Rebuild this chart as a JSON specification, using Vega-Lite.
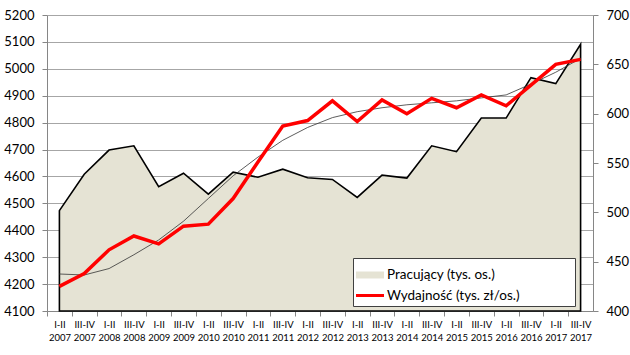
{
  "$schema": "https://vega.github.io/schema/vega-lite/v6.json",
  "width": 546,
  "height": 296,
  "autosize": {"type": "none"},
  "padding": {"left": 47, "top": 15, "right": 37, "bottom": 44},
  "background": "white",
  "config": {
    "view": {"stroke": null},
    "font": "Lato",
    "axis": {"labelColor": "black", "labelFont": "Lato", "domainColor": "#868686", "tickColor": "#868686", "tickSize": 5, "title": null}
  },
  "data": {
    "values": [
      {"cat": "I-II 2007", "prac": 4473, "wyd": 425, "trend": 437.5},
      {"cat": "III-IV 2007", "prac": 4608, "wyd": 438, "trend": 436.5},
      {"cat": "I-II 2008", "prac": 4698, "wyd": 462, "trend": 443},
      {"cat": "III-IV 2008", "prac": 4714, "wyd": 476, "trend": 457},
      {"cat": "I-II 2009", "prac": 4562, "wyd": 468, "trend": 472},
      {"cat": "III-IV 2009", "prac": 4612, "wyd": 486, "trend": 491},
      {"cat": "I-II 2010", "prac": 4534, "wyd": 488, "trend": 514},
      {"cat": "III-IV 2010", "prac": 4616, "wyd": 514, "trend": 537},
      {"cat": "I-II 2011", "prac": 4597, "wyd": 551, "trend": 556},
      {"cat": "III-IV 2011", "prac": 4627, "wyd": 587.5, "trend": 573},
      {"cat": "I-II 2012", "prac": 4595, "wyd": 593, "trend": 586},
      {"cat": "III-IV 2012", "prac": 4589, "wyd": 613, "trend": 596},
      {"cat": "I-II 2013", "prac": 4522, "wyd": 592, "trend": 602},
      {"cat": "III-IV 2013", "prac": 4605, "wyd": 614, "trend": 606},
      {"cat": "I-II 2014", "prac": 4594, "wyd": 600, "trend": 609},
      {"cat": "III-IV 2014", "prac": 4714, "wyd": 615.5, "trend": 611},
      {"cat": "I-II 2015", "prac": 4692, "wyd": 606, "trend": 613},
      {"cat": "III-IV 2015", "prac": 4817, "wyd": 619, "trend": 616},
      {"cat": "I-II 2016", "prac": 4817, "wyd": 608, "trend": 619},
      {"cat": "III-IV 2016", "prac": 4967, "wyd": 629, "trend": 630},
      {"cat": "I-II 2017", "prac": 4945, "wyd": 650, "trend": 642},
      {"cat": "III-IV 2017", "prac": 5091, "wyd": 655, "trend": 656}
    ]
  },
  "encoding": {
    "x": {
      "field": "cat", "type": "ordinal", "sort": null,
      "scale": {"type": "point", "padding": 0.5},
      "axis": {
        "labelExpr": "split(datum.value, ' ')",
        "labelAngle": 0,
        "tickOffset": -12.409,
        "labelOffset": 12.409,
        "labelFontSize": 9.5,
        "labelLineHeight": 13.5,
        "labelPadding": 3,
        "labelOverlap": false,
        "labelBound": false,
        "grid": false
      }
    }
  },
  "layer": [
    {
      "mark": {"type": "area", "stroke": "black", "strokeWidth": 1.6, "opacity": 1, "fillOpacity": 1},
      "encoding": {
        "y": {
          "field": "prac", "type": "quantitative",
          "scale": {"domain": [4100, 5200], "nice": false, "zero": false},
          "axis": {
            "orient": "left",
            "values": [4100, 4200, 4300, 4400, 4500, 4600, 4700, 4800, 4900, 5000, 5100, 5200],
            "format": "d",
            "grid": true, "gridColor": "#a6a6a6", "gridWidth": 1,
            "labelFontSize": 13, "labelPadding": 8
          }
        },
        "y2": {"datum": 4100},
        "fill": {
          "datum": "Pracujący (tys. os.)", "type": "nominal",
          "scale": {"domain": ["Pracujący (tys. os.)", "Wydajność (tys. zł/os.)"], "range": ["#e5e3d4", "white"]},
          "legend": {
            "orient": "none", "legendX": 306, "legendY": 243,
            "title": null, "fillColor": "white", "strokeColor": "#404040",
            "padding": 3, "labelFont": "Lato", "labelFontSize": 13.5, "labelColor": "black",
            "rowPadding": 0, "symbolSize": 784, "labelOffset": 3, "symbolOpacity": 1,
            "symbolStrokeWidth": 0, "symbolStrokeColor": "transparent",
            "labelLimit": 400,
            "symbolType": "M-1,-0.25H1V0.25H-1Z",
            "labelExpr": "datum.label + '\u00a0\u00a0\u00a0\u00a0\u00a0\u00a0\u00a0\u00a0\u00a0\u00a0\u00a0\u00a0\u00a0\u00a0\u00a0\u200b'"
          }
        }
      }
    },
    {
      "layer": [
        {
          "mark": {"type": "line", "color": "#333333", "strokeWidth": 0.8},
          "encoding": {
            "y": {
              "field": "trend", "type": "quantitative",
              "scale": {"domain": [400, 700], "nice": false, "zero": false},
              "axis": {
                "orient": "right",
                "values": [400, 450, 500, 550, 600, 650, 700],
                "format": "d",
                "grid": false, "labelFontSize": 13, "labelPadding": 8
              }
            }
          }
        },
        {
          "mark": {"type": "line", "strokeWidth": 3.5},
          "encoding": {
            "y": {
              "field": "wyd", "type": "quantitative",
              "scale": {"domain": [400, 700], "nice": false, "zero": false},
              "axis": {
                "orient": "right",
                "values": [400, 450, 500, 550, 600, 650, 700],
                "format": "d",
                "grid": false, "labelFontSize": 13, "labelPadding": 8
              }
            },
            "stroke": {
              "datum": "Wydajność (tys. zł/os.)", "type": "nominal",
              "scale": {"domain": ["Wydajność (tys. zł/os.)"], "range": ["#ff0000"]},
              "legend": {
                "orient": "none", "legendX": 307.5, "legendY": 265,
                "title": null, "padding": 0,
                "symbolType": "stroke", "symbolSize": 784, "symbolStrokeWidth": 3,
                "symbolOpacity": 1,
                "labelFontSize": 1, "labelOffset": 0,
                "labelExpr": "''"
              }
            }
          }
        }
      ]
    }
  ],
  "resolve": {"scale": {"y": "independent"}}
}
